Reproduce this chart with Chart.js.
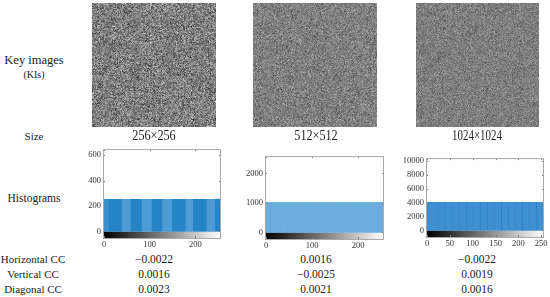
<!DOCTYPE html>
<html>
<head>
<meta charset="utf-8">
<script src="https://cdn.jsdelivr.net/npm/chart.js@4"></script>
<style>
  html, body { margin: 0; padding: 0; background: #fff; }
  #page { position: relative; width: 550px; height: 297px; overflow: hidden; font-family: "Liberation Serif", serif; color: #222; }
  canvas { position: absolute; }
  .label { position: absolute; transform: translate(-50%, -50%); white-space: nowrap; }
</style>
</head>
<body>
<div id="page"></div>
<script>
// Histogram 1 (256x256)
const hist1Height = 256;
const hist1Edges = [0, 11, 39, 58, 83, 104, 128, 149, 179, 195, 225, 243, 254];
const hist1XTicks = [0, 100, 200];
const hist1YTicks = [0, 200, 400, 600];

// Histogram 2 (512x512), the odd bands are the thin seams between bars
const hist2Height = 1024;
const hist2Edges = [0, 37, 38, 72, 73, 106, 107, 138, 139, 171, 172, 203, 204, 236, 237, 254];
const hist2XTicks = [0, 100, 200];
const hist2YTicks = [0, 1000, 2000];

// Histogram 3 (1024x1024)
const hist3Height = 4096;
const hist3Edges = [0, 23, 25, 38, 40, 54, 56, 69, 71, 85, 87, 100, 102, 115, 118, 131, 133, 146, 148, 162, 164, 177, 179, 192, 194, 208, 210, 223, 225, 239, 241, 254];
const hist3XTicks = [0, 50, 100, 150, 200, 250];
const hist3YTicks = [0, 2000, 4000, 6000, 8000, 10000];

const rowNames = ["Horizontal CC", "Vertical CC", "Diagonal CC"];
const sizeNames = ["256×256", "512×512", "1024×1024"];
const ccColumn1 = ["−0.0022", "0.0016", "0.0023"];
const ccColumn2 = ["0.0016", "−0.0025", "0.0021"];
const ccColumn3 = ["−0.0022", "0.0019", "0.0016"];
const keySizes = [256, 512, 1024];

const page = document.getElementById("page");

function addLabel(text, x, y, size, extra) {
  const el = document.createElement("div");
  el.className = "label";
  el.textContent = text;
  el.style.left = x + "px";
  el.style.top = y + "px";
  el.style.fontSize = size + "px";
  if (extra) el.style.cssText += extra;
  page.appendChild(el);
}

// Key images are just noise textures, not chart data
function drawKeyImage(size, left, top, w, h, contrast) {
  const src = document.createElement("canvas");
  src.width = size;
  src.height = size;
  const sctx = src.getContext("2d");
  const img = sctx.createImageData(size, size);
  let s = 12345 + size;
  for (let i = 0; i < size * size; i++) {
    s = (Math.imul(s, 1664525) + 1013904223) >>> 0;
    const g = s >>> 24;
    img.data[i * 4] = g;
    img.data[i * 4 + 1] = g;
    img.data[i * 4 + 2] = g;
    img.data[i * 4 + 3] = 255;
  }
  sctx.putImageData(img, 0, 0);

  const out = document.createElement("canvas");
  out.width = w;
  out.height = h;
  out.style.left = left + "px";
  out.style.top = top + "px";
  out.style.filter = "contrast(" + contrast + ")";
  const octx = out.getContext("2d");
  octx.imageSmoothingEnabled = true;
  octx.imageSmoothingQuality = "high";
  octx.drawImage(src, 0, 0, w, h);
  page.appendChild(out);
}

// Gray bar under the histogram plus the frame and small inward ticks
const framePlugin = {
  id: "frame",
  beforeDatasetsDraw(chart) {
    const { ctx, chartArea, scales } = chart;
    const y0 = scales.y.getPixelForValue(0);
    const x0 = scales.x.getPixelForValue(0);
    const x1 = scales.x.getPixelForValue(255);
    const grad = ctx.createLinearGradient(x0, 0, x1, 0);
    grad.addColorStop(0, "#000");
    grad.addColorStop(1, "#fff");
    ctx.save();
    ctx.fillStyle = grad;
    ctx.fillRect(chartArea.left, y0, chartArea.width, chartArea.bottom - y0);
    ctx.restore();
  },
  afterDatasetsDraw(chart) {
    const { ctx, chartArea, scales } = chart;
    ctx.save();
    ctx.strokeStyle = "#a9a9a9";
    ctx.lineWidth = 1;
    ctx.strokeRect(chartArea.left - 0.5, chartArea.top - 0.5, chartArea.width + 1, chartArea.height + 1);
    ctx.strokeStyle = "#777";
    ctx.beginPath();
    scales.x.ticks.forEach((t) => {
      const px = Math.round(scales.x.getPixelForValue(t.value)) + 0.5;
      ctx.moveTo(px, chartArea.bottom);
      ctx.lineTo(px, chartArea.bottom - 2);
      ctx.moveTo(px, chartArea.top);
      ctx.lineTo(px, chartArea.top + 1);
    });
    scales.y.ticks.forEach((t) => {
      const py = Math.round(scales.y.getPixelForValue(t.value)) + 0.5;
      ctx.moveTo(chartArea.left, py);
      ctx.lineTo(chartArea.left + 1, py);
      ctx.moveTo(chartArea.right, py);
      ctx.lineTo(chartArea.right - 1, py);
    });
    ctx.stroke();
    ctx.restore();
  },
};

function makeHistogram(opts) {
  const leftSpace = 34, rightSpace = 8, topSpace = 3, bottomSpace = 14;
  const canvas = document.createElement("canvas");
  canvas.width = opts.right - opts.left + leftSpace + rightSpace;
  canvas.height = opts.bottom - opts.top + topSpace + bottomSpace;
  canvas.style.left = opts.left - leftSpace + "px";
  canvas.style.top = opts.top - topSpace + "px";
  page.appendChild(canvas);

  // one filled band per pair of edges
  const datasets = [];
  for (let i = 0; i < opts.edges.length - 1; i++) {
    datasets.push({
      data: [
        { x: opts.edges[i], y: opts.height },
        { x: opts.edges[i + 1], y: opts.height },
      ],
      fill: "origin",
      borderWidth: 0,
      pointRadius: 0,
      backgroundColor: i % 2 === 0 ? opts.colorA : opts.colorB,
    });
  }
  if (opts.firstColor) datasets[0].backgroundColor = opts.firstColor;
  // full width band underneath so the joins between bands don't show white
  datasets.push({
    data: [
      { x: opts.edges[0], y: opts.height },
      { x: opts.edges[opts.edges.length - 1], y: opts.height },
    ],
    fill: "origin",
    borderWidth: 0,
    pointRadius: 0,
    backgroundColor: opts.colorA,
  });

  const tickFont = { family: "Liberation Serif", size: 8.5 };
  new Chart(canvas.getContext("2d"), {
    type: "line",
    data: { datasets: datasets },
    plugins: [framePlugin],
    options: {
      responsive: false,
      animation: false,
      layout: { autoPadding: false, padding: { top: topSpace, right: rightSpace } },
      plugins: { legend: { display: false }, tooltip: { enabled: false } },
      scales: {
        x: {
          type: "linear",
          min: 0,
          max: opts.xMax,
          grid: { display: false, tickLength: 2 },
          border: { display: false },
          ticks: { font: tickFont, color: "#333", padding: 0, maxRotation: 0, callback: (v) => v },
          afterBuildTicks: (s) => { s.ticks = opts.xTicks.map((v) => ({ value: v })); },
          afterFit: (s) => { s.height = bottomSpace; },
        },
        y: {
          min: opts.yMin,
          max: opts.yMax,
          grid: { display: false, tickLength: 0 },
          border: { display: false },
          ticks: { font: tickFont, color: "#333", padding: 3, callback: (v) => v },
          afterBuildTicks: (s) => { s.ticks = opts.yTicks.map((v) => ({ value: v })); },
          afterFit: (s) => { s.width = leftSpace; },
        },
      },
    },
  });
}

drawKeyImage(keySizes[0], 92, 3, 124, 124, 0.85);
drawKeyImage(keySizes[1], 253, 3, 124, 124, 1.1);
drawKeyImage(keySizes[2], 416, 3, 123, 124, 1.9);

makeHistogram({
  left: 104, right: 220, top: 145, bottom: 238,
  xMax: 254, yMin: -52, yMax: 640,
  height: hist1Height, edges: hist1Edges, xTicks: hist1XTicks, yTicks: hist1YTicks,
  colorA: "#4f9bd5", colorB: "#2484c6", firstColor: "#3a8fcd",
});
makeHistogram({
  left: 266, right: 383, top: 152, bottom: 239,
  xMax: 254, yMin: -222, yMax: 2548,
  height: hist2Height, edges: hist2Edges, xTicks: hist2XTicks, yTicks: hist2YTicks,
  colorA: "#6badde", colorB: "#8cc2e8",
});
makeHistogram({
  left: 427, right: 543, top: 154, bottom: 237,
  xMax: 254, yMin: -940, yMax: 10276,
  height: hist3Height, edges: hist3Edges, xTicks: hist3XTicks, yTicks: hist3YTicks,
  colorA: "#3e90d2", colorB: "#2a80c4",
});

// Left column text
addLabel("Key images", 34, 60, 12.5);
addLabel("(KIs)", 34, 74, 10);
addLabel("Size", 34, 136, 11);
addLabel("Histograms", 34, 198, 11.5);
const rowY = [259, 274, 289];
rowNames.forEach((name, i) => addLabel(name, 33, rowY[i], 11));

// Size captions are narrow in the original
const colX = [154, 316, 477];
const narrow = "transform:translate(-50%,-50%) scaleX(0.87);";
addLabel(sizeNames[0], colX[0], 136, 14, narrow);
addLabel(sizeNames[1], colX[1], 136, 14, narrow);
addLabel(sizeNames[2], colX[2], 136, 14, "transform:translate(-50%,-50%) scaleX(0.78);");

[ccColumn1, ccColumn2, ccColumn3].forEach((col, c) => {
  col.forEach((v, i) => addLabel(v, colX[c], rowY[i], 11.5));
});
</script>
</body>
</html>
